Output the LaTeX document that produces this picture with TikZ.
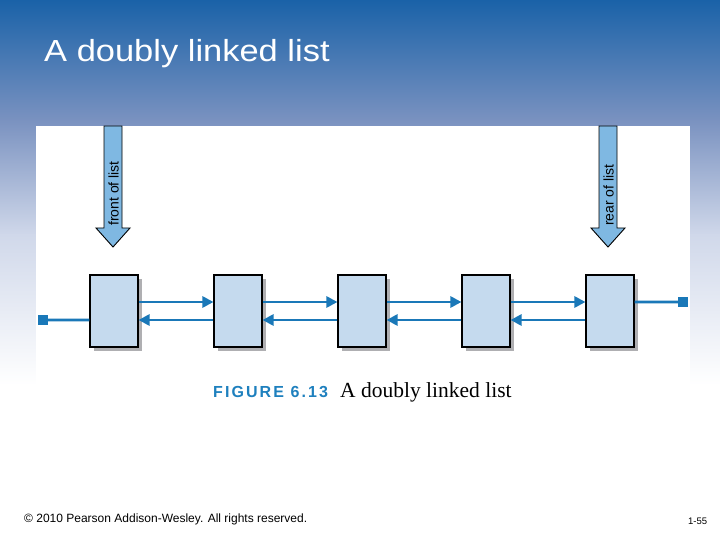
\documentclass[tikz,border=0pt]{standalone}
\usepackage{fontspec}
\setmainfont{Liberation Serif}
\setsansfont{Liberation Sans}
\newfontfamily\arialf{Liberation Sans}
\usetikzlibrary{arrows.meta,calc}
\definecolor{bgtop}{RGB}{26,98,168}
\definecolor{bgmid}{RGB}{122,146,192}
\definecolor{bglow}{RGB}{208,216,234}
\definecolor{boxfill}{RGB}{197,218,238}
\definecolor{linkblue}{RGB}{26,120,184}
\definecolor{ptrfill}{RGB}{127,184,226}
\definecolor{figblue}{RGB}{30,128,190}
\definecolor{shadowgray}{RGB}{175,175,178}
\tikzset{
  listnode/.style={draw=black, line width=1.1bp, fill=boxfill, minimum width=48bp, minimum height=72bp, inner sep=0pt},
  link/.style={draw=linkblue, line width=2.8bp, -{Triangle[length=11bp,width=11bp]}},
  nulllink/.style={draw=linkblue, line width=2.6bp},
  nullsq/.style={fill=linkblue, minimum size=10bp, inner sep=0pt},
  ptr/.style={draw=black, line width=0.9bp, fill=ptrfill},
  ptrlabel/.style={font=\arialf\fontsize{14bp}{16bp}\selectfont, rotate=90, anchor=west, inner sep=0pt}
}
\begin{document}
\begin{tikzpicture}[x=1bp,y=-1bp]
\useasboundingbox (0,0) rectangle (720,540);
% background
\fill[white] (0,0) rectangle (720,540);
\fill[top color=bgtop, bottom color=bgmid] (0,0) rectangle (720,120.5);
\fill[top color=bgmid, bottom color=bglow] (0,120) rectangle (720,235.5);
\fill[top color=bglow, bottom color=white] (0,235) rectangle (720,385);
% title
\node[anchor=base west, inner sep=0pt, text=white, font=\arialf\fontsize{30.5bp}{34bp}\selectfont, xscale=1.13] (title) at (44,62) {A doubly linked list};
% figure area
\fill[white] (36,126) rectangle (690,405);
% pointers
\draw[ptr] (104,126) -- (122,126) -- (122,228) -- (130,228) -- (113,247) -- (96,228) -- (104,228) -- cycle;
\node[ptrlabel] (front) at (113.5,226) {front of list};
\draw[ptr] (599,126) -- (617,126) -- (617,228) -- (625,228) -- (608,247) -- (591,228) -- (599,228) -- cycle;
\node[ptrlabel] (rear) at (608.5,226) {rear of list};
% shadows and nodes
\foreach \i/\x in {1/114,2/238,3/362,4/486,5/610}{
  \fill[shadowgray] (\x-20,279) rectangle (\x+28,351);
  \node[listnode] (b\i) at (\x,311) {};
}
% links
\foreach \a/\b in {1/2,2/3,3/4,4/5}{
  \draw[link] ([yshift=9bp]b\a.east) -- ([yshift=9bp]b\b.west);
  \draw[link] ([yshift=-9bp]b\b.west) -- ([yshift=-9bp]b\a.east);
}
\node[nullsq] (nleft) at (43,320) {};
\node[nullsq] (nright) at (683,302) {};
\draw[nulllink] ([yshift=-9bp]b1.west) -- (nleft.center);
\draw[nulllink] ([yshift=9bp]b5.east) -- (nright.center);
% caption
\node[anchor=base west, inner sep=0pt, text=figblue, font=\arialf\bfseries\fontsize{16bp}{18bp}\selectfont\addfontfeature{LetterSpace=13}] (figlabel) at (213,397) {FIGURE 6.13};
\node[anchor=base west, inner sep=0pt, font=\fontsize{21.5bp}{24bp}\selectfont] (figtitle) at (340,397) {A doubly linked list};
% footer
\node[anchor=base west, inner sep=0pt, font=\arialf\fontsize{12bp}{14bp}\selectfont] (copy) at (24,522) {\textcopyright{} 2010 Pearson Addison-Wesley. All rights reserved.};
\node[anchor=base west, inner sep=0pt, font=\arialf\fontsize{9.5bp}{11bp}\selectfont] (page) at (688,524) {1-55};
\end{tikzpicture}
\end{document}
